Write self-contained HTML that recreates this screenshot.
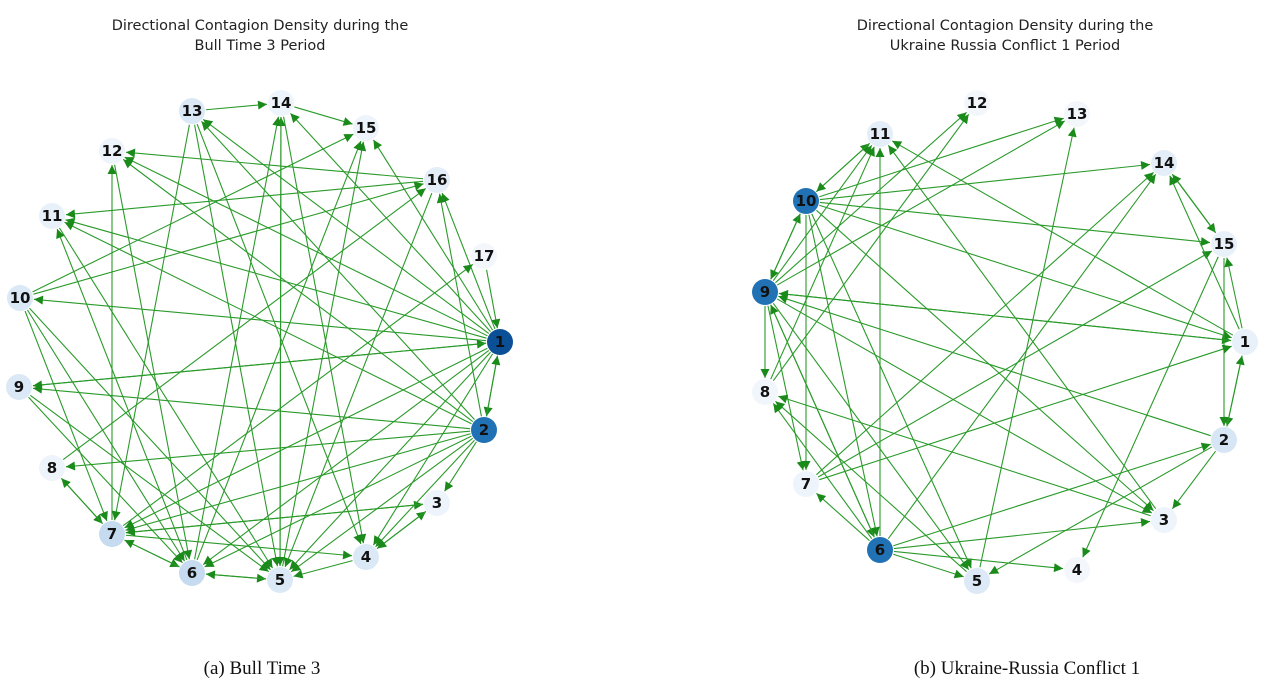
<!DOCTYPE html>
<html><head><meta charset="utf-8"><style>
body{margin:0;background:#fff;}
svg{display:block}
.t{font-family:"DejaVu Sans",sans-serif;font-size:14.5px;fill:#222}
.n{font-family:"DejaVu Sans",sans-serif;font-size:15px;font-weight:bold;fill:#111}
.c{font-family:"Liberation Serif",serif;font-size:19px;fill:#111}
</style></head><body>
<svg id="s" width="1266" height="684" viewBox="0 0 1266 684" xmlns="http://www.w3.org/2000/svg">
<defs><marker id="a" viewBox="0 0 10 10" refX="10" refY="5" markerWidth="11" markerHeight="9" markerUnits="userSpaceOnUse" orient="auto"><path d="M0,0L10,5L0,10z" fill="#1a8a1a"/></marker></defs>
<text class="t" x="260" y="30" text-anchor="middle">Directional Contagion Density during the</text>
<text class="t" x="260" y="50" text-anchor="middle">Bull Time 3 Period</text>
<text class="t" x="1005" y="30" text-anchor="middle">Directional Contagion Density during the</text>
<text class="t" x="1005" y="50" text-anchor="middle">Ukraine Russia Conflict 1 Period</text>
<text class="c" x="262" y="674" text-anchor="middle">(a) Bull Time 3</text>
<text class="c" x="1027" y="674" text-anchor="middle">(b) Ukraine-Russia Conflict 1</text>
<g id="g"></g>
</svg>
<script>
var L={1:[500,342],2:[484,430],3:[437,503],4:[366,557],5:[280,580],6:[192,573],7:[112,534],8:[52,468],9:[19,387],10:[20,298],11:[52,216],12:[112,151],13:[192,111],14:[281,103],15:[366,128],16:[437,180],17:[484,256]};
var LC={1:"#0b4f96",2:"#2171b5",7:"#c6dbef",6:"#c6dbef",5:"#dbe9f6",10:"#dbe9f6",13:"#dbe9f6",4:"#dbe9f6",9:"#dbe9f6",16:"#e4eef8",11:"#e8f0f9",3:"#eef4fb",8:"#eef4fb",12:"#eef4fb",14:"#eef4fb",15:"#eef4fb",17:"#f3f7fc"};
var LE=[[13,14],[14,15],[16,12],[16,11],[10,15],[10,16],[1,10],[1,13],[1,12],[1,14],[1,15],[17,1],[1,16],[1,2],[2,1],[9,1],[1,9],[2,9],[8,16],[2,8],[1,11],[2,11],[6,11],[7,12],[12,6],[2,12],[13,7],[13,5],[13,4],[2,13],[5,14],[14,5],[14,4],[6,14],[5,15],[16,5],[2,16],[7,17],[10,7],[10,6],[10,5],[9,6],[9,5],[8,7],[7,8],[7,6],[6,7],[7,4],[7,3],[2,7],[1,7],[1,6],[2,6],[6,5],[1,5],[2,5],[4,5],[2,4],[1,4],[4,3],[3,4],[2,3],[11,5],[3,7],[5,6],[6,15]];
var R={1:[1245,342],2:[1224,440],3:[1164,520],4:[1077,570],5:[977,581],6:[880,550],7:[806,484],8:[765,392],9:[765,292],10:[806,201],11:[880,134],12:[977,103],13:[1077,114],14:[1164,163],15:[1224,244]};
var RC={6:"#2171b5",9:"#2171b5",10:"#2171b5",2:"#d6e6f4",5:"#dde9f6",11:"#e4eef8",14:"#e4eef8",15:"#e8f0f9",1:"#e8f0f9",3:"#eef4fb",7:"#eef4fb",8:"#f1f6fc",4:"#f3f7fc",12:"#f3f7fc",13:"#f3f7fc"};
var RE=[[10,11],[11,10],[9,11],[8,11],[6,11],[1,11],[3,11],[8,12],[10,13],[9,13],[5,13],[10,14],[7,14],[6,14],[10,15],[7,15],[10,1],[9,1],[1,9],[2,9],[9,3],[9,5],[10,3],[10,6],[10,5],[10,7],[9,8],[9,7],[9,6],[6,9],[9,10],[10,9],[5,8],[3,8],[6,8],[6,7],[6,5],[6,4],[6,3],[6,2],[2,5],[1,2],[2,1],[15,2],[1,15],[1,14],[14,15],[15,14],[2,3],[15,4],[9,12],[7,1]];
var g=document.getElementById('g'),h="";
function draw(P,E,C){
 E.forEach(function(e){var a=P[e[0]],b=P[e[1]];var dx=b[0]-a[0],dy=b[1]-a[1],d=Math.hypot(dx,dy),ux=dx/d,uy=dy/d,r=14;
 h+='<line x1="'+(a[0]+ux*r)+'" y1="'+(a[1]+uy*r)+'" x2="'+(b[0]-ux*r)+'" y2="'+(b[1]-uy*r)+'" stroke="#2a9a2a" stroke-width="1.1" marker-end="url(#a)"/>';});
 for(var k in P){var p=P[k];h+='<circle cx="'+p[0]+'" cy="'+p[1]+'" r="13" fill="'+C[k]+'"/><text class="n" x="'+p[0]+'" y="'+(p[1]+5)+'" text-anchor="middle">'+k+'</text>';}
}
draw(L,LE,LC);draw(R,RE,RC);
g.innerHTML=h;
</script>
</body></html>
